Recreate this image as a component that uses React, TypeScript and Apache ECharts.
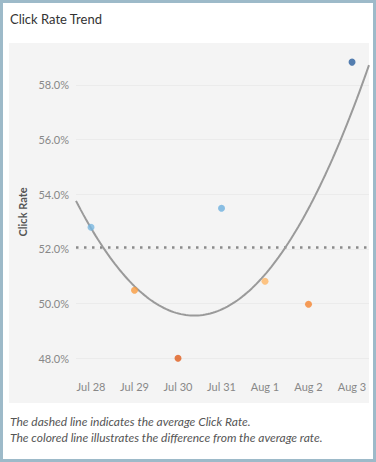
import React, { useEffect, useRef } from "react";
import * as echarts from "echarts";

const categories = ["Jul 28", "Jul 29", "Jul 30", "Jul 31", "Aug 1", "Aug 2", "Aug 3"];
const clickRates = [52.79, 50.49, 48.0, 53.49, 50.82, 49.98, 58.83];
const pointColors = ["#78b6e0", "#f99b3e", "#e05d1c", "#6eb0de", "#ffb765", "#f5842f", "#2b5f9e"];
const yTicks = [48, 50, 52, 54, 56, 58];
const xMin = -0.345;
const xMax = 6.39;

// least-squares quadratic trend line from the data
function quadFit(ys: number[]) {
  let s0 = 0, s1 = 0, s2 = 0, s3 = 0, s4 = 0, t0 = 0, t1 = 0, t2 = 0;
  ys.forEach((y, x) => {
    s0 += 1; s1 += x; s2 += x * x; s3 += x ** 3; s4 += x ** 4;
    t0 += y; t1 += x * y; t2 += x * x * y;
  });
  const M = [
    [s0, s1, s2, t0],
    [s1, s2, s3, t1],
    [s2, s3, s4, t2],
  ];
  for (let i = 0; i < 3; i++) {
    for (let k = i + 1; k < 3; k++) {
      const f = M[k][i] / M[i][i];
      for (let j = i; j < 4; j++) M[k][j] -= f * M[i][j];
    }
  }
  const c = [0, 0, 0];
  for (let i = 2; i >= 0; i--) {
    let s = M[i][3];
    for (let j = i + 1; j < 3; j++) s -= M[i][j] * c[j];
    c[i] = s / M[i][i];
  }
  return (x: number) => c[0] + c[1] * x + c[2] * x * x;
}

export default function App() {
  const ref = useRef<HTMLDivElement>(null);
  useEffect(() => {
    document.body.style.margin = "0";
    const chart = echarts.init(ref.current!, null, { renderer: "svg" });
    const fit = quadFit(clickRates);
    const trend: number[][] = [];
    const steps = 120;
    for (let i = 0; i <= steps; i++) {
      const x = xMin + ((xMax - xMin) * i) / steps;
      trend.push([x, fit(x)]);
    }
    const font = "Lato";
    chart.setOption({
      animation: false,
      graphic: [
        {
          type: "rect",
          silent: true,
          z: -10,
          shape: { x: 1.5, y: 1.5, width: 373, height: 459 },
          style: { fill: "#ffffff", stroke: "#9dbac9", lineWidth: 3 },
        },
        {
          type: "rect",
          silent: true,
          z: -9,
          shape: { x: 9, y: 43, width: 360, height: 360 },
          style: { fill: "#f4f4f4" },
        },
        {
          type: "text",
          x: 10,
          y: 12,
          style: { text: "Click Rate Trend", fill: "#333333", font: `13px ${font}` },
        },
        {
          type: "text",
          x: 10,
          y: 413,
          style: {
            text: "The dashed line indicates the average Click Rate.\nThe colored line illustrates the difference from the average rate.",
            fill: "#555555",
            font: `italic 12px ${font}`,
            lineHeight: 16,
          },
        },
      ],
      grid: { left: 76, right: 7, top: 43.8, bottom: 90 },
      xAxis: {
        type: "value",
        min: xMin,
        max: xMax,
        axisLine: { show: false },
        axisTick: { show: false },
        splitLine: { show: false },
        axisLabel: {
          customValues: categories.map((_, i) => i),
          formatter: (v: number) => categories[Math.round(v)] ?? "",
          color: "#888888",
          fontFamily: font,
          fontSize: 11,
          margin: 9,
        },
      },
      yAxis: {
        type: "value",
        min: 47.5,
        max: 59.5,
        name: "Click Rate",
        nameLocation: "middle",
        nameGap: 47,
        nameTextStyle: { color: "#555555", fontFamily: font, fontSize: 11, fontWeight: "bold", padding: [0, 0, 0, -8] },
        axisLine: { show: false },
        axisTick: { show: false },
        splitLine: { show: false },
        axisLabel: {
          customValues: yTicks,
          formatter: (v: number) => v.toFixed(1) + "%",
          color: "#888888",
          fontFamily: font,
          fontSize: 11,
          margin: 7,
        },
      },
      series: [
        {
          type: "line",
          data: [],
          silent: true,
          z: 0,
          markLine: {
            z: 0,
            silent: true,
            symbol: "none",
            label: { show: false },
            lineStyle: { color: "#ebebeb", width: 1, type: "solid" },
            data: yTicks.map((t) => ({ yAxis: t })),
          },
        },
        {
          type: "line",
          data: trend,
          showSymbol: false,
          silent: true,
          lineStyle: { color: "#9a9a9a", width: 2 },
          z: 2,
        },
        {
          type: "scatter",
          data: clickRates.map((v, i) => ({ value: [i, v], itemStyle: { color: pointColors[i] } })),
          symbolSize: 7,
          z: 3,
          markLine: {
            z: 1,
            silent: true,
            symbol: "none",
            label: { show: false },
            lineStyle: { color: "#8a8a8a", width: 2.5, type: [2.5, 5.5] },
            data: [{ type: "average" }],
          },
        },
      ],
    });
    return () => chart.dispose();
  }, []);
  return <div ref={ref} style={{ width: 376, height: 462 }} />;
}
